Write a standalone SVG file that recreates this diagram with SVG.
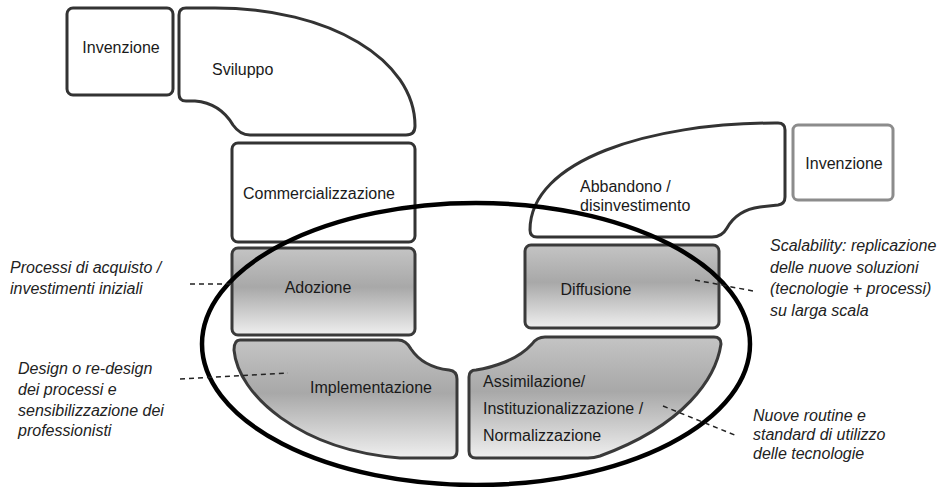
<svg xmlns="http://www.w3.org/2000/svg" width="942" height="487" viewBox="0 0 942 487">
<defs>
<linearGradient id="g" x1="0" y1="0" x2="0" y2="1">
<stop offset="0" stop-color="#c4c4c4"/>
<stop offset="0.45" stop-color="#a8a8a8"/>
<stop offset="1" stop-color="#efefef"/>
</linearGradient>
<style>
.box{fill:#fff;stroke:#333;stroke-width:3;stroke-linejoin:round}
.gbox{fill:url(#g);stroke:#3a3a3a;stroke-width:3;stroke-linejoin:round}
.lbox{fill:#fff;stroke:#8c8c8c;stroke-width:3}
.t{font-family:"Liberation Sans",Arial,sans-serif;font-size:16px;fill:#1a1a1a}
.it{font-family:"Liberation Sans",Arial,sans-serif;font-size:16px;font-style:italic;fill:#222}
.dash{stroke:#222;stroke-width:1.5;stroke-dasharray:5,4;fill:none}
.ell{fill:none;stroke:#000;stroke-width:4.5}
</style>
</defs>
<rect width="942" height="487" fill="#fff"/>
<g id="invenzione1">
<rect class="box" x="67" y="8" width="106" height="87" rx="6"/>
<text class="t" x="121" y="53" text-anchor="middle">Invenzione</text>
</g>
<g id="sviluppo">
<path class="box" d="M186,8 L215,8 C330,8 415,60 415,126 Q415,135 406,135 L250,135 Q240,135 233,125 Q220,103 195,101 L186,101 Q179,101 179,94 L179,15 Q179,8 186,8 Z"/>
<text class="t" x="212" y="75">Sviluppo</text>
</g>
<g id="commercializzazione">
<rect class="box" x="232" y="143" width="183" height="99" rx="6"/>
<text class="t" x="319" y="199" text-anchor="middle">Commercializzazione</text>
</g>
<g id="adozione">
<rect class="gbox" x="232" y="248" width="183" height="87" rx="6"/>
<text class="t" x="318" y="293" text-anchor="middle">Adozione</text>
</g>
<g id="implementazione">
<path class="gbox" d="M240,340 L398,340 Q406,340 411,349 Q423,367 449,370 Q457,371 457,379 L457,451 Q457,458 450,458 L400,458 C300,450 238,395 234,350 Q234,340 240,340 Z"/>
<text class="t" x="371" y="393" text-anchor="middle">Implementazione</text>
</g>
<g id="abbandono">
<path class="box" d="M537,237 L712,237 Q722,237 727,228 Q737,210 760,207 L778,205 Q785,204 785,197 L785,130 Q785,123 778,123 L775,123 C650,123 530,160 530,230 Q530,237 537,237 Z"/>
<text class="t" x="580" y="192">Abbandono /</text>
<text class="t" x="580" y="211">disinvestimento</text>
</g>
<g id="invenzione2">
<rect class="lbox" x="793" y="125" width="100" height="75" rx="5"/>
<text class="t" x="844" y="169" text-anchor="middle">Invenzione</text>
</g>
<g id="diffusione">
<rect class="gbox" x="525" y="245" width="194" height="83" rx="6"/>
<text class="t" x="596" y="295" text-anchor="middle">Diffusione</text>
</g>
<g id="assimilazione">
<path class="gbox" d="M476,370 Q490,368 505,362 Q522,355 532,344 Q537,337 545,337 L714,337 Q721,337 721,344 C716,378 685,425 600,456 Q594,458 588,458 L476,458 Q469,458 469,451 L469,377 Q469,370 476,370 Z"/>
<text class="t" x="483" y="387">Assimilazione/</text>
<text class="t" x="483" y="414">Instituzionalizzazione /</text>
<text class="t" x="483" y="441">Normalizzazione</text>
</g>
<g id="ambito">
<ellipse class="ell" cx="476" cy="344" rx="274" ry="141"/>
</g>
<g id="connectors">
<line class="dash" x1="190" y1="284" x2="233" y2="284"/>
<line class="dash" x1="180" y1="379" x2="288" y2="373"/>
<line class="dash" x1="695" y1="280" x2="753" y2="291"/>
<line class="dash" x1="663" y1="406" x2="737" y2="436"/>
</g>
<g id="note-adozione">
<text class="it" x="10" y="273">Processi di acquisto /</text>
<text class="it" x="10" y="294">investimenti iniziali</text>
</g>
<g id="note-implementazione">
<text class="it" x="18" y="374">Design o re-design</text>
<text class="it" x="18" y="395">dei processi e</text>
<text class="it" x="18" y="416">sensibilizzazione dei</text>
<text class="it" x="18" y="436">professionisti</text>
</g>
<g id="note-diffusione">
<text class="it" x="770" y="251">Scalability: replicazione</text>
<text class="it" x="770" y="273">delle nuove soluzioni</text>
<text class="it" x="770" y="294">(tecnologie + processi)</text>
<text class="it" x="770" y="316">su larga scala</text>
</g>
<g id="note-assimilazione">
<text class="it" x="753" y="421">Nuove routine e</text>
<text class="it" x="753" y="440">standard di utilizzo</text>
<text class="it" x="753" y="459">delle tecnologie</text>
</g>
</svg>
